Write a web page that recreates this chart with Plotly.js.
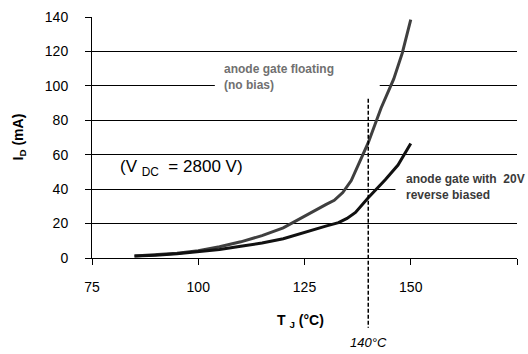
<!DOCTYPE html>
<html>
<head>
<meta charset="utf-8">
<script src="https://cdn.plot.ly/plotly-3.0.1.min.js"></script>
<style>html,body{margin:0;padding:0;background:#fff;}#chart{width:528px;height:354px;}</style>
</head>
<body>
<div id="chart"></div>
<script>
// Junction temperature (°C) and leakage current (mA)
const tempFloating = [85, 90, 95, 100, 105, 110, 115, 120, 125, 130, 132, 134, 136, 140, 143, 146, 148, 150];
const currentFloating = [1.2, 1.8, 2.7, 4.2, 6.5, 9.4, 13, 17.5, 24.5, 31, 33.5, 38, 45, 67, 87, 104, 119, 138.5];
const tempReverse = [85, 90, 95, 100, 105, 110, 115, 120, 125, 130, 133, 135, 137, 140, 144, 147, 150];
const currentReverse = [1.2, 1.6, 2.5, 3.8, 5, 6.8, 8.7, 11.2, 15, 18.5, 20.5, 23, 26.5, 35, 45.5, 54, 66.5];
const xTicks = [75, 100, 125, 150, 175];
const yTicks = [0, 20, 40, 60, 80, 100, 120, 140];
const markerTemp = 140;

const FONT = "Liberation Sans, Arial, sans-serif";

const traces = [
  {x: tempFloating, y: currentFloating, mode: 'lines', line: {color: '#3f3f3f', width: 3}, hoverinfo: 'skip'},
  {x: tempReverse, y: currentReverse, mode: 'lines', line: {color: '#111111', width: 3}, hoverinfo: 'skip'}
];

const layout = {
  width: 528, height: 354,
  margin: {l: 92, r: 11, t: 17, b: 96},
  paper_bgcolor: '#fff', plot_bgcolor: '#fff',
  showlegend: false,
  font: {family: FONT, size: 14, color: '#000'},
  xaxis: {
    range: [75, 175], tickvals: xTicks, ticktext: xTicks.map(String),
    showgrid: false, zeroline: false,
    showline: true, linecolor: '#000', linewidth: 1,
    ticks: 'outside', ticklen: 6, tickcolor: '#000', tickwidth: 1,
    ticklabelstandoff: 10,
    tickfont: {family: FONT, size: 14, color: '#000'}
  },
  yaxis: {
    range: [0, 140], tickvals: yTicks, ticktext: yTicks.map(String),
    showgrid: true, gridcolor: '#000', gridwidth: 1, zeroline: false,
    showline: true, linecolor: '#000', linewidth: 1,
    ticks: 'outside', ticklen: 6, tickcolor: '#000', tickwidth: 1,
    ticklabelstandoff: 14,
    tickfont: {family: FONT, size: 14, color: '#000'}
  },
  shapes: [
    {type: 'rect', layer: 'between', xref: 'x', yref: 'y', x0: 103.9, x1: 142.7, y0: 92.6, y1: 112, fillcolor: '#fff', line: {width: 0}},
    {type: 'rect', layer: 'between', xref: 'x', yref: 'y', x0: 146.4, x1: 175, y0: 33, y1: 47, fillcolor: '#fff', line: {width: 0}},
    {type: 'line', layer: 'above', xref: 'x', yref: 'paper', x0: markerTemp, x1: markerTemp, y0: 0.661, y1: -0.289, line: {color: '#000', width: 1.5, dash: '4px,2px'}}
  ],
  annotations: [
    {xref: 'x', yref: 'y', x: 105.7, y: 105.4, xanchor: 'left', yanchor: 'middle', align: 'left', showarrow: false,
     text: '<b>anode gate floating<br>(no bias)</b>', font: {family: FONT, size: 12, color: '#707070'}},
    {xref: 'x', yref: 'y', x: 148.3, y: 41.2, xanchor: 'left', yanchor: 'middle', align: 'left', showarrow: false,
     text: '<b>anode gate with  20V<br>reverse biased</b>', font: {family: FONT, size: 12, color: '#3a3a3a'}},
    {xref: 'x', yref: 'y', x: 96, y: 52, xanchor: 'center', yanchor: 'middle', showarrow: false,
     text: '(V <sub>DC</sub>  = 2800 V)', font: {family: FONT, size: 17, color: '#000'}},
    {xref: 'paper', yref: 'paper', x: -0.1726, y: 0.503, xanchor: 'center', yanchor: 'middle', textangle: -90, showarrow: false,
     text: '<b>I<sub>D</sub> (mA)</b>', font: {family: FONT, size: 14, color: '#000'}},
    {xref: 'paper', yref: 'paper', x: 0.491, y: -0.26, xanchor: 'center', yanchor: 'middle', showarrow: false,
     text: '<b>T <sub>J</sub> (°C)</b>', font: {family: FONT, size: 14, color: '#000'}},
    {xref: 'x', yref: 'paper', x: markerTemp, y: -0.351, xanchor: 'center', yanchor: 'middle', showarrow: false,
     text: '<i>' + markerTemp + '°C</i>', font: {family: FONT, size: 13, color: '#000'}}
  ]
};

Plotly.newPlot('chart', traces, layout, {staticPlot: true, displayModeBar: false});
</script>
</body>
</html>
